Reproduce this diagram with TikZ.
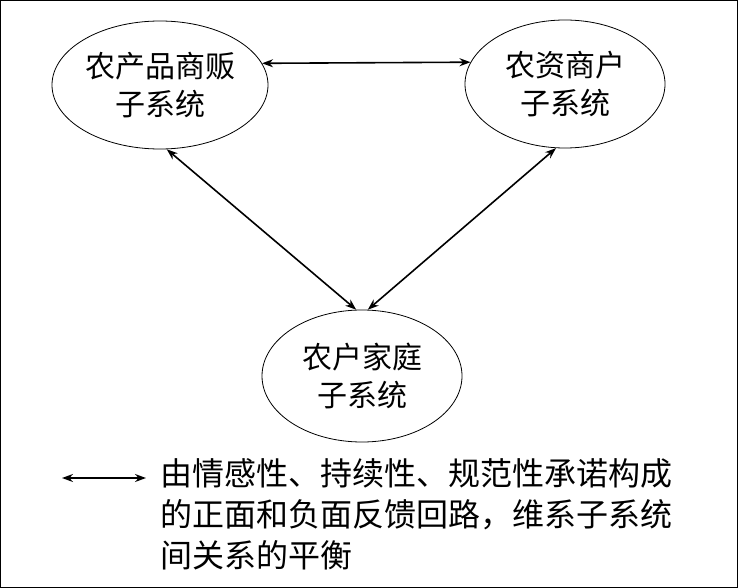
\documentclass[tikz,border=0pt]{standalone}
\usepackage{fontspec}
\setmainfont{Noto Sans CJK SC}
\usetikzlibrary{arrows.meta,shapes.geometric}
\begin{document}
\begin{tikzpicture}[x=1pt,y=-1pt,
  sys/.style={draw,line width=0.8pt,ellipse,minimum width=#1,minimum height=128pt,inner sep=0pt,align=center,font=\fontsize{30}{38}\selectfont},
  link/.style={{Stealth[length=11pt,width=8pt]}-{Stealth[length=11pt,width=8pt]},line width=1.6pt}]
\draw[line width=0.8pt] (0.5,0.5) rectangle (737.5,587.5);
\useasboundingbox (0,0) rectangle (738,588);
\node[sys=216pt] (L) at (160,85) {农产品商贩\\子系统};
\node[sys=200pt] (R) at (565,84) {农资商户\\子系统};
\node[sys=200pt,minimum height=132pt] (B) at (362,376) {农户家庭\\子系统};
\draw[link] (L.12) -- (R.167);
\draw[link] (L.-84) -- (B.95);
\draw[link] (R.-98) -- (B.85);
\coordinate (a1) at (62,478);
\coordinate (a2) at (146,478);
\draw[link] (a1) -- (a2);
\node[anchor=north west,align=left,inner sep=0pt,font=\fontsize{32}{41}\selectfont] (T) at (160,458) {由情感性、持续性、规范性承诺构成\\的正面和负面反馈回路，维系子系统\\间关系的平衡};
\end{tikzpicture}
\end{document}
